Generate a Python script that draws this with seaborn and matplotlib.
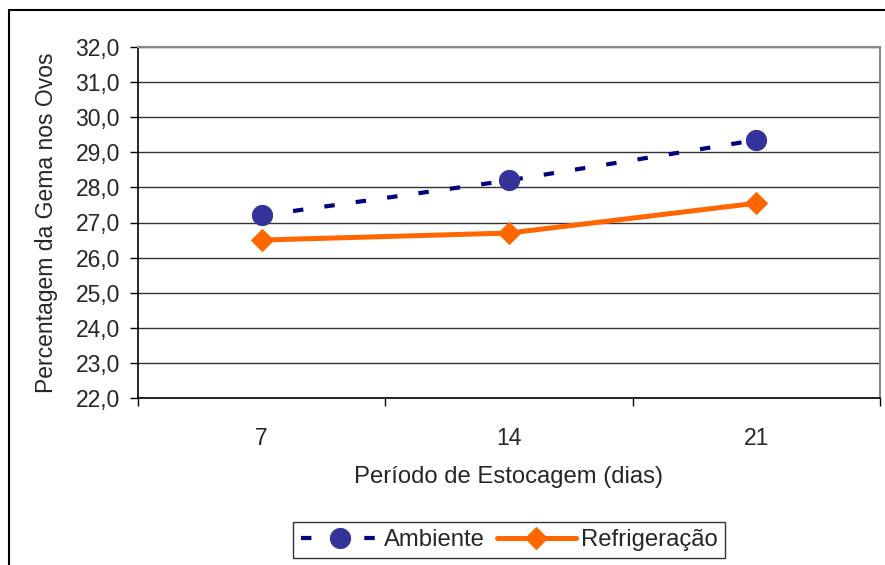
import matplotlib
matplotlib.use("Agg")
import matplotlib.pyplot as plt
import seaborn as sns
import pandas as pd
from matplotlib.lines import Line2D

days = ["7", "14", "21"]
ambiente = [27.2, 28.2, 29.35]
refrigeracao = [26.5, 26.7, 27.55]
y_ticks = [22.0, 23.0, 24.0, 25.0, 26.0, 27.0, 28.0, 29.0, 30.0, 31.0, 32.0]

sns.set_theme(style="white")
plt.rcParams["font.family"] = ["Liberation Sans", "DejaVu Sans"]
FS = 16.5
FS2 = 17.2

fig = plt.figure(figsize=(8.85, 5.65), dpi=100)
ax = fig.add_axes([138/885, 1-398/565, (880-138)/885, (398-47)/565])

pos = list(range(len(days)))
df_a = pd.DataFrame({"x": pos, "y": ambiente})
df_r = pd.DataFrame({"x": pos, "y": refrigeracao})

sns.lineplot(data=df_a, x="x", y="y", ax=ax, color="#000080", lw=3.0,
             marker="o", markersize=14.5, markerfacecolor="#333399",
             markeredgecolor="#333399", label="Ambiente", zorder=4)
la = ax.lines[-1]
la.set_dashes((2.5, 5.1))
la.set_dash_capstyle("butt")

sns.lineplot(data=df_r, x="x", y="y", ax=ax, color="#FF6600", lw=3.6,
             marker="D", markersize=11.5, markerfacecolor="#FF6600",
             markeredgecolor="#FF6600", label="Refrigeração", zorder=4)

ax.set_xlim(-0.5, len(days) - 0.5)
ax.set_ylim(22, 32)
ax.set_yticks(y_ticks)
ax.set_yticklabels([f"{v:.1f}".replace(".", ",") for v in y_ticks], fontsize=FS)
ax.yaxis.grid(True, color="#333333", lw=1.0)
ax.set_axisbelow(True)

ax.set_xticks([p - 0.5 for p in pos] + [len(days) - 0.5])
ax.set_xticklabels([])
ax.set_xticks(pos, minor=True)
ax.set_xticklabels(days, minor=True, fontsize=FS)
ax.tick_params(axis="x", which="major", direction="out", length=6, width=1, color="black", bottom=True)
ax.tick_params(axis="x", which="minor", length=0, pad=21)
ax.tick_params(axis="y", direction="out", length=6, width=1, color="black", left=True, pad=7)

for s in ["left", "bottom"]:
    ax.spines[s].set_color("black")
    ax.spines[s].set_linewidth(1.2)
for s in ["top", "right"]:
    ax.spines[s].set_color("#888888")
    ax.spines[s].set_linewidth(1.5)

ax.set_xlabel("Período de Estocagem (dias)", fontsize=FS2)
ax.xaxis.set_label_coords(0.5, (398-477)/351)
ax.xaxis.label.set_va("center")
ax.set_ylabel("Percentagem da Gema nos Ovos", fontsize=FS)
ax.yaxis.set_label_coords((47-138)/742, 0.5)
ax.yaxis.label.set_va("center")

handles, labels = ax.get_legend_handles_labels()
leg = ax.legend(handles, labels, loc="center", bbox_to_anchor=(509/885, 1-540/565),
                bbox_transform=fig.transFigure, ncol=2, fontsize=FS2, frameon=True,
                fancybox=False, edgecolor="black", handlelength=3.3, handletextpad=0.2,
                columnspacing=0.5, borderpad=0.3, borderaxespad=0)
leg.get_frame().set_linewidth(1.0)

# outer chart border (top and left visible)
fig.add_artist(Line2D([9/885, 1], [1-10/565, 1-10/565], transform=fig.transFigure, color="black", lw=1.5))
fig.add_artist(Line2D([9/885, 9/885], [0, 1-10/565], transform=fig.transFigure, color="black", lw=1.5))

fig.savefig("out.png", dpi=100)
